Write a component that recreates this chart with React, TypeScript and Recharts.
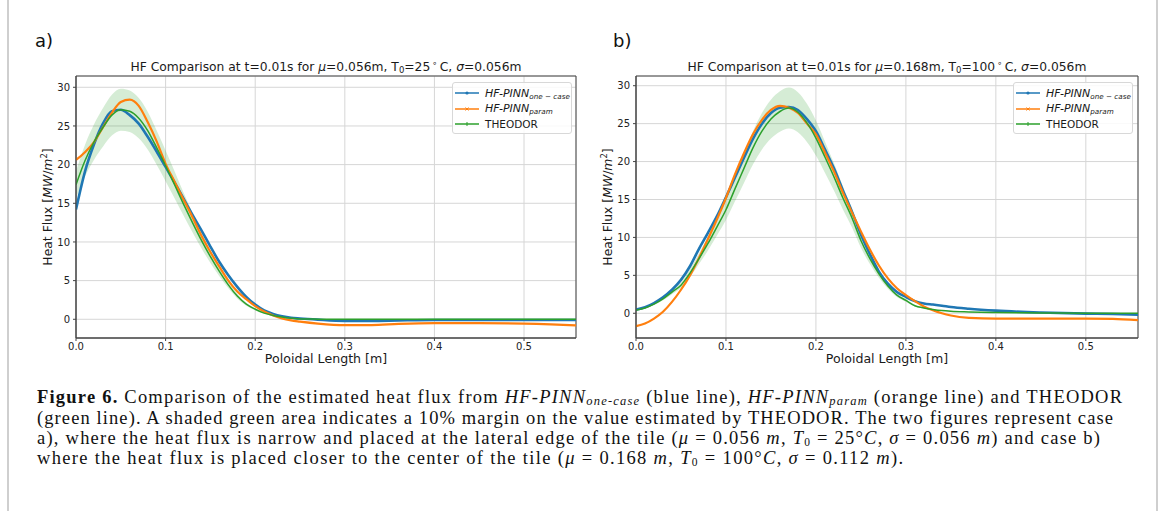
import React from "react";
import {
  ComposedChart,
  Line,
  Area,
  XAxis,
  YAxis,
  CartesianGrid,
  ReferenceArea,
} from "recharts";

// case a) mu=0.056m
const xA = [
  0, 0.01, 0.02, 0.03, 0.04, 0.05, 0.06, 0.07, 0.08, 0.09, 0.1, 0.11, 0.12, 0.13, 0.14, 0.15, 0.16, 0.17,
  0.18, 0.19, 0.2, 0.21, 0.22, 0.23, 0.24, 0.25, 0.27, 0.3, 0.33, 0.36, 0.4, 0.45, 0.5, 0.53, 0.558,
];
const oneCaseA = [
  14.2, 19.1, 22.6, 25.3, 26.9, 27.1, 26.4, 25.3, 23.6, 21.7, 19.7, 17.7, 15.6, 13.5, 11.5, 9.4, 7.4, 5.7,
  4.2, 2.9, 1.9, 1.15, 0.7, 0.4, 0.2, 0.1, -0.05, -0.2, -0.2, -0.15, -0.1, -0.1, -0.1, -0.1, -0.1,
];
const paramA = [
  20.6, 21.6, 22.9, 24.8, 26.7, 28.1, 28.4, 27.6, 25.5, 23.0, 20.1, 17.8, 15.5, 13.2, 10.8, 8.7, 6.8, 5.0,
  3.6, 2.6, 1.7, 1.0, 0.5, 0.1, -0.15, -0.3, -0.55, -0.75, -0.75, -0.6, -0.5, -0.5, -0.55, -0.65, -0.8,
];
const theodorA = [
  17.4, 20.5, 22.9, 24.8, 26.4, 27.1, 26.9, 26.0, 24.4, 22.2, 19.85, 17.4, 14.9, 12.5, 10.2, 8.1, 6.2, 4.45,
  3.0, 1.95, 1.3, 0.8, 0.5, 0.3, 0.15, 0.05, 0.02, 0.0, 0.0, 0.0, 0.0, 0.0, 0.0, 0.0, 0.0,
];

// case b) mu=0.168m
const xB = [
  0, 0.01, 0.02, 0.03, 0.04, 0.05, 0.06, 0.07, 0.08, 0.09, 0.1, 0.11, 0.12, 0.13, 0.14, 0.15, 0.16, 0.17,
  0.18, 0.19, 0.2, 0.21, 0.22, 0.23, 0.24, 0.25, 0.26, 0.27, 0.28, 0.29, 0.3, 0.31, 0.32, 0.33, 0.34, 0.35,
  0.37, 0.4, 0.45, 0.5, 0.53, 0.558,
];
const oneCaseB = [
  0.5, 0.8, 1.35, 2.1, 3.1, 4.4, 6.2, 8.5, 10.6, 12.8, 15.3, 17.9, 20.5, 23.0, 25.0, 26.4, 27.1, 27.2,
  26.8, 25.6, 24.0, 21.6, 19.1, 16.2, 13.4, 10.4, 7.8, 5.5, 3.9, 2.8, 2.15, 1.6, 1.3, 1.15, 1.0, 0.83,
  0.6, 0.35, 0.1, -0.05, -0.1, -0.2,
];
const paramB = [
  -1.7, -1.35, -0.7, 0.2, 1.5, 3.1, 5.0, 7.3, 9.8, 12.4, 15.2, 18.3, 21.1, 23.6, 25.5, 26.8, 27.35, 27.1,
  26.4, 25.0, 23.6, 21.2, 18.7, 15.9, 13.3, 10.8, 8.4, 6.3, 4.6, 3.3, 2.4, 1.6, 0.9, 0.4, 0.0, -0.3,
  -0.6, -0.7, -0.7, -0.7, -0.75, -0.9,
];
const theodorB = [
  0.4, 0.7, 1.2, 1.9, 2.8, 3.7, 5.3, 7.2, 9.2, 11.4, 13.65, 16.4, 19.1, 21.8, 24.0, 25.6, 26.6, 27.05,
  26.5, 25.1, 23.1, 20.6, 18.0, 15.2, 12.6, 9.6, 7.2, 5.2, 3.6, 2.4, 1.7, 1.0, 0.7, 0.5, 0.35, 0.26,
  0.18, 0.1, 0.05, 0.0, 0.0, 0.0,
];

const xTicks = [0, 0.1, 0.2, 0.3, 0.4, 0.5];
const yTicks = [0, 5, 10, 15, 20, 25, 30];

const BLUE = "#1f77b4";
const ORANGE = "#ff7f0e";
const GREEN = "#2ca02c";
const SANS = "'DejaVu Sans', sans-serif";
const X_MAX = 0.558;

const buildRows = (x: number[], blue: number[], orange: number[], green: number[]) =>
  x.map((v, i) => ({
    x: v,
    blue: blue[i],
    orange: orange[i],
    green: green[i],
    band: [green[i] * 0.9, green[i] * 1.1],
  }));

const rowsA = buildRows(xA, oneCaseA, paramA, theodorA);
const rowsB = buildRows(xB, oneCaseB, paramB, theodorB);

const tickStyle = { fontSize: 10, fill: "#222", fontFamily: SANS };
const subStyle: React.CSSProperties = { fontSize: 8.5, lineHeight: 0, verticalAlign: "-2px" };
const supStyle: React.CSSProperties = { fontSize: 8.5, lineHeight: 0, verticalAlign: "5px" };

const Panel = ({ rows, yDomain, left, width, margin }: any) => (
  <div style={{ position: "absolute", left, top: 0 }}>
    <ComposedChart width={width} height={380} data={rows} margin={margin}>
      <CartesianGrid stroke="#d6d6d6" strokeWidth={1} />
      <XAxis
        type="number"
        dataKey="x"
        domain={[0, X_MAX]}
        ticks={xTicks}
        allowDataOverflow
        tickFormatter={(v: number) => v.toFixed(1)}
        tick={tickStyle}
        tickSize={3}
        tickMargin={2}
        height={30}
        axisLine={{ stroke: "#444" }}
        tickLine={{ stroke: "#444" }}
      />
      <YAxis
        type="number"
        domain={yDomain}
        ticks={yTicks}
        allowDataOverflow
        tick={tickStyle}
        tickSize={3}
        tickMargin={3}
        width={40}
        axisLine={{ stroke: "#444" }}
        tickLine={{ stroke: "#444" }}
      />
      <Area
        dataKey="band"
        type="monotone"
        fill={GREEN}
        fillOpacity={0.2}
        stroke="none"
        dot={false}
        activeDot={false}
        isAnimationActive={false}
      />
      <Line dataKey="blue" type="monotone" stroke={BLUE} strokeWidth={2.6} dot={false} isAnimationActive={false} />
      <Line dataKey="orange" type="monotone" stroke={ORANGE} strokeWidth={2.2} dot={false} isAnimationActive={false} />
      <Line dataKey="green" type="monotone" stroke={GREEN} strokeWidth={1.5} dot={false} isAnimationActive={false} />
      <ReferenceArea
        x1={0}
        x2={X_MAX}
        y1={yDomain[0]}
        y2={yDomain[1]}
        fill="none"
        stroke="#444"
        strokeWidth={1}
        ifOverflow="visible"
      />
    </ComposedChart>
  </div>
);

const Title = ({ cx, mu, t0 }: { cx: number; mu: string; t0: string }) => (
  <div
    style={{
      position: "absolute",
      left: cx,
      top: 60,
      transform: "translateX(-50%)",
      whiteSpace: "nowrap",
      fontFamily: SANS,
      fontSize: 12.3,
      color: "#1a1a1a",
      lineHeight: "15px",
    }}
  >
    HF Comparison at t=0.01s for <i>μ</i>={mu}m, T<sub style={subStyle}>0</sub>={t0}
    <sup style={supStyle}>&thinsp;∘</sup>&thinsp;C, <i>σ</i>=0.056m
  </div>
);

const XLabel = ({ cx }: { cx: number }) => (
  <div
    style={{
      position: "absolute",
      left: cx,
      top: 351,
      transform: "translateX(-50%)",
      whiteSpace: "nowrap",
      fontFamily: SANS,
      fontSize: 12.6,
      lineHeight: "15px",
      color: "#1a1a1a",
    }}
  >
    Poloidal Length [m]
  </div>
);

const YLabel = ({ cx }: { cx: number }) => (
  <div
    style={{
      position: "absolute",
      left: cx,
      top: 207,
      transform: "translate(-50%, -50%) rotate(-90deg)",
      whiteSpace: "nowrap",
      fontFamily: SANS,
      fontSize: 12.4,
      lineHeight: "15px",
      color: "#1a1a1a",
    }}
  >
    Heat Flux [<i>MW</i>/<i>m</i>
    <sup style={supStyle}>2</sup>]
  </div>
);

const legendItems = [
  { color: BLUE, name: "HF-PINN", sub: "one − case", marker: "dot" },
  { color: ORANGE, name: "HF-PINN", sub: "param", marker: "x" },
  { color: GREEN, name: "THEODOR", sub: "", marker: "plus" },
];

const LegendBox = ({ left }: { left: number }) => (
  <div
    style={{
      position: "absolute",
      left,
      top: 82,
      width: 118,
      height: 50,
      background: "rgba(255,255,255,0.85)",
      border: "1px solid #d8d8d8",
      borderRadius: 3,
      fontFamily: SANS,
      fontSize: 10.5,
      color: "#1a1a1a",
    }}
  >
    {legendItems.map((it, i) => (
      <div
        key={i}
        style={{ position: "absolute", left: 2, top: 3 + i * 15.5, height: 14, display: "flex", alignItems: "center" }}
      >
        <svg width={24} height={10} style={{ marginRight: 6 }}>
          <line x1={0} y1={5} x2={24} y2={5} stroke={it.color} strokeWidth={1.5} />
          {it.marker === "dot" && <circle cx={12} cy={5} r={1.6} fill={it.color} />}
          {it.marker === "x" && (
            <path d="M10.5 3.5 L13.5 6.5 M13.5 3.5 L10.5 6.5" stroke={it.color} strokeWidth={1} />
          )}
          {it.marker === "plus" && <path d="M12 3 L12 7" stroke={it.color} strokeWidth={1} />}
        </svg>
        {it.sub ? (
          <span style={{ whiteSpace: "nowrap", lineHeight: "14px" }}>
            <i style={{ fontSize: 11 }}>{it.name}</i>
            <sub style={{ fontSize: 7.2, fontStyle: "italic", lineHeight: 0, verticalAlign: "-2px" }}>{it.sub}</sub>
          </span>
        ) : (
          <span style={{ lineHeight: "14px" }}>{it.name}</span>
        )}
      </div>
    ))}
  </div>
);

const PanelTag = ({ left, label }: { left: number; label: string }) => (
  <div style={{ position: "absolute", left, top: 30, fontFamily: SANS, fontSize: 18, color: "#111" }}>{label}</div>
);

const CAP = { fontFamily: "'Liberation Serif', serif", fontSize: 18.5, fill: "#111" };

const Caption = () => (
  <svg width={1165} height={131} style={{ position: "absolute", left: 0, top: 380 }}>
    <text x={37} y={23} textLength={1085} lengthAdjust="spacing" style={CAP}>
      <tspan fontWeight="bold">Figure 6.</tspan> Comparison of the estimated heat flux from{" "}
      <tspan fontStyle="italic">HF-PINN</tspan>
      <tspan fontStyle="italic" fontSize={12.5} dy={2}>one-case</tspan>
      <tspan dy={-2}> (blue line), </tspan>
      <tspan fontStyle="italic">HF-PINN</tspan>
      <tspan fontStyle="italic" fontSize={12.5} dy={2}>param</tspan>
      <tspan dy={-2}> (orange line) and THEODOR</tspan>
    </text>
    <text x={37} y={44} textLength={1076} lengthAdjust="spacing" style={CAP}>
      (green line). A shaded green area indicates a 10% margin on the value estimated by THEODOR. The two figures represent case
    </text>
    <text x={37} y={64} textLength={1063} lengthAdjust="spacing" style={CAP}>
      a), where the heat flux is narrow and placed at the lateral edge of the tile (<tspan fontStyle="italic">μ</tspan> = 0.056{" "}
      <tspan fontStyle="italic">m</tspan>, <tspan fontStyle="italic">T</tspan>
      <tspan fontSize={11.5} dy={1.5}>0</tspan>
      <tspan dy={-1.5}> = 25°</tspan>
      <tspan fontStyle="italic">C</tspan>, <tspan fontStyle="italic">σ</tspan> = 0.056{" "}
      <tspan fontStyle="italic">m</tspan>) and case b)
    </text>
    <text x={37} y={84} textLength={866} lengthAdjust="spacing" style={CAP}>
      where the heat flux is placed closer to the center of the tile (<tspan fontStyle="italic">μ</tspan> = 0.168{" "}
      <tspan fontStyle="italic">m</tspan>, <tspan fontStyle="italic">T</tspan>
      <tspan fontSize={11.5} dy={1.5}>0</tspan>
      <tspan dy={-1.5}> = 100°</tspan>
      <tspan fontStyle="italic">C</tspan>, <tspan fontStyle="italic">σ</tspan> = 0.112{" "}
      <tspan fontStyle="italic">m</tspan>).
    </text>
  </svg>
);

export default function App() {
  return (
    <div
      style={{
        position: "absolute",
        left: 0,
        top: 0,
        width: 1165,
        height: 511,
        background: "#fff",
        overflow: "hidden",
      }}
    >
      <div style={{ position: "absolute", left: 7, top: 0, width: 2, height: 511, background: "#cfcfcf" }} />
      <div style={{ position: "absolute", left: 1156, top: 0, width: 2, height: 511, background: "#cfcfcf" }} />

      <PanelTag left={35} label="a)" />
      <PanelTag left={613} label="b)" />

      <Panel rows={rowsA} yDomain={[-2.42, 31.46]} left={0} width={590} margin={{ top: 76, right: 14, bottom: 12, left: 36 }} />
      <Panel rows={rowsB} yDomain={[-3.26, 31.28]} left={580} width={580} margin={{ top: 76, right: 22, bottom: 12, left: 16 }} />

      <Title cx={326} mu="0.056" t0="25" />
      <Title cx={887} mu="0.168" t0="100" />
      <XLabel cx={326} />
      <XLabel cx={887} />
      <YLabel cx={47} />
      <YLabel cx={607} />
      <LegendBox left={452} />
      <LegendBox left={1013} />

      <Caption />
    </div>
  );
}
